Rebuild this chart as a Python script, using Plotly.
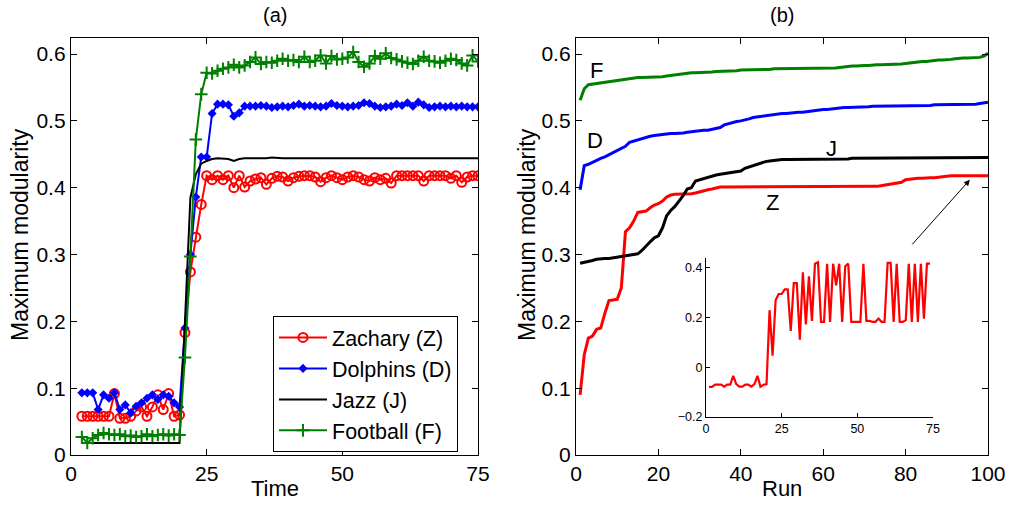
import plotly.graph_objects as go

# ---------------- Data: panel (a) ----------------
time = list(range(2, 76))

zachary_a = [0.058, 0.058, 0.058, 0.058, 0.058, 0.058, 0.092, 0.055, 0.055, 0.058,
             0.066, 0.072, 0.058, 0.072, 0.090, 0.068, 0.092, 0.058, 0.060,
             0.183, 0.274, 0.326, 0.375, 0.418, 0.412, 0.418, 0.412, 0.418, 0.400,
             0.418, 0.401, 0.410, 0.413, 0.415, 0.405, 0.414, 0.417, 0.416, 0.410,
             0.415, 0.417, 0.418, 0.418, 0.416, 0.409, 0.415, 0.418, 0.415, 0.412,
             0.416, 0.418, 0.416, 0.412, 0.410, 0.415, 0.412, 0.414, 0.407, 0.418,
             0.418, 0.418, 0.418, 0.418, 0.410, 0.418, 0.418, 0.418, 0.418, 0.414,
             0.418, 0.408, 0.416, 0.418, 0.418]

dolphins_a = [0.093, 0.093, 0.093, 0.068, 0.090, 0.085, 0.093, 0.068, 0.075, 0.063,
              0.073, 0.078, 0.085, 0.090, 0.083, 0.090, 0.088, 0.078, 0.072,
              0.190, 0.300, 0.386, 0.446, 0.446, 0.511, 0.525, 0.525, 0.524, 0.507,
              0.512, 0.522, 0.522, 0.522, 0.523, 0.522, 0.520, 0.521, 0.522, 0.521,
              0.523, 0.525, 0.522, 0.523, 0.522, 0.521, 0.522, 0.526, 0.523, 0.522,
              0.521, 0.522, 0.523, 0.527, 0.526, 0.522, 0.520, 0.521, 0.522, 0.525,
              0.523, 0.527, 0.522, 0.528, 0.524, 0.520, 0.521, 0.522, 0.521, 0.522,
              0.521, 0.522, 0.521, 0.521, 0.521]

jazz_a = [0.018, 0.018, 0.018, 0.018, 0.018, 0.018, 0.018, 0.018, 0.018, 0.018,
          0.018, 0.018, 0.018, 0.018, 0.018, 0.018, 0.018, 0.018, 0.018,
          0.200, 0.385, 0.420, 0.436, 0.440, 0.443, 0.444, 0.444, 0.443, 0.440,
          0.443, 0.444, 0.444, 0.444, 0.443, 0.444, 0.445, 0.444, 0.444, 0.444,
          0.444, 0.445, 0.445, 0.444, 0.444, 0.444, 0.445, 0.444, 0.444, 0.444,
          0.444, 0.444, 0.445, 0.444, 0.444, 0.444, 0.444, 0.444, 0.445, 0.444,
          0.444, 0.444, 0.444, 0.444, 0.444, 0.445, 0.444, 0.444, 0.444, 0.444,
          0.444, 0.445, 0.445, 0.444, 0.444]

football_a = [0.027, 0.018, 0.025, 0.030, 0.033, 0.031, 0.030, 0.031, 0.028, 0.029,
              0.027, 0.028, 0.031, 0.028, 0.030, 0.031, 0.029, 0.031, 0.030,
              0.146, 0.297, 0.472, 0.540, 0.572, 0.571, 0.575, 0.578, 0.580, 0.584,
              0.580, 0.583, 0.588, 0.595, 0.585, 0.588, 0.587, 0.590, 0.593, 0.590,
              0.591, 0.588, 0.596, 0.588, 0.590, 0.598, 0.586, 0.597, 0.592, 0.593,
              0.595, 0.603, 0.588, 0.581, 0.586, 0.597, 0.593, 0.601, 0.594, 0.592,
              0.589, 0.587, 0.585, 0.590, 0.596, 0.590, 0.589, 0.587, 0.590, 0.593,
              0.591, 0.586, 0.583, 0.598, 0.589]

# ---------------- Data: panel (b) ----------------
run = list(range(1, 101))

zachary_b = [0.090, 0.150, 0.175, 0.178, 0.188, 0.190, 0.212, 0.231, 0.232, 0.233,
             0.250, 0.334, 0.340, 0.350, 0.363, 0.364, 0.365, 0.370, 0.374, 0.376,
             0.380, 0.386, 0.389, 0.390, 0.390, 0.390, 0.390, 0.391, 0.392, 0.394,
             0.396, 0.397, 0.398, 0.400, 0.401, 0.401, 0.401, 0.401, 0.401, 0.401,
             0.401, 0.401, 0.401, 0.401, 0.401, 0.401, 0.401, 0.401, 0.401, 0.401,
             0.401, 0.401, 0.401, 0.401, 0.401, 0.401, 0.401, 0.401, 0.401, 0.401,
             0.401, 0.401, 0.401, 0.401, 0.401, 0.401, 0.401, 0.401, 0.401, 0.401,
             0.401, 0.401, 0.402, 0.403, 0.404, 0.404, 0.405, 0.406, 0.408, 0.412,
             0.413, 0.413, 0.414, 0.414, 0.415, 0.415, 0.415, 0.416, 0.417, 0.417,
             0.418, 0.418, 0.418, 0.418, 0.418, 0.418, 0.418, 0.418, 0.418, 0.418]

dolphins_b = [0.397, 0.433, 0.435, 0.438, 0.442, 0.444, 0.446, 0.449, 0.452, 0.456,
              0.459, 0.462, 0.468, 0.470, 0.472, 0.474, 0.475, 0.477, 0.478, 0.479,
              0.480, 0.480, 0.481, 0.481, 0.481, 0.482, 0.483, 0.484, 0.485, 0.485,
              0.486, 0.486, 0.487, 0.488, 0.490, 0.494, 0.496, 0.498, 0.499, 0.500,
              0.501, 0.503, 0.505, 0.506, 0.507, 0.508, 0.509, 0.510, 0.510, 0.511,
              0.511, 0.512, 0.512, 0.513, 0.513, 0.514, 0.514, 0.515, 0.516, 0.517,
              0.517, 0.518, 0.519, 0.519, 0.520, 0.520, 0.520, 0.521, 0.521, 0.521,
              0.521, 0.522, 0.522, 0.522, 0.522, 0.522, 0.523, 0.523, 0.523, 0.523,
              0.523, 0.523, 0.523, 0.523, 0.523, 0.523, 0.524, 0.524, 0.524, 0.524,
              0.524, 0.524, 0.524, 0.524, 0.524, 0.525, 0.525, 0.526, 0.527, 0.528]

jazz_b = [0.287, 0.288, 0.290, 0.291, 0.293, 0.294, 0.294, 0.294, 0.295, 0.295,
          0.296, 0.297, 0.298, 0.300, 0.301, 0.306, 0.313, 0.319, 0.325, 0.328,
          0.340, 0.358, 0.366, 0.372, 0.380, 0.388, 0.398, 0.400, 0.410, 0.412,
          0.414, 0.416, 0.417, 0.419, 0.420, 0.421, 0.422, 0.422, 0.423, 0.425,
          0.429, 0.431, 0.434, 0.436, 0.438, 0.439, 0.440, 0.441, 0.441, 0.442,
          0.442, 0.442, 0.442, 0.442, 0.443, 0.443, 0.443, 0.443, 0.443, 0.443,
          0.443, 0.443, 0.443, 0.443, 0.443, 0.443, 0.444, 0.444, 0.444, 0.444,
          0.444, 0.444, 0.444, 0.444, 0.444, 0.444, 0.444, 0.444, 0.444, 0.444,
          0.444, 0.444, 0.444, 0.444, 0.445, 0.445, 0.445, 0.445, 0.445, 0.445,
          0.445, 0.445, 0.445, 0.445, 0.445, 0.445, 0.445, 0.445, 0.445, 0.445]

football_b = [0.531, 0.548, 0.554, 0.555, 0.556, 0.557, 0.558, 0.559, 0.560, 0.561,
              0.562, 0.563, 0.564, 0.564, 0.565, 0.565, 0.565, 0.565, 0.566, 0.566,
              0.566, 0.567, 0.568, 0.569, 0.570, 0.571, 0.571, 0.572, 0.572, 0.572,
              0.573, 0.573, 0.573, 0.574, 0.574, 0.574, 0.575, 0.575, 0.575, 0.576,
              0.576, 0.576, 0.576, 0.577, 0.577, 0.577, 0.577, 0.578, 0.578, 0.578,
              0.578, 0.578, 0.578, 0.578, 0.578, 0.579, 0.579, 0.579, 0.579, 0.579,
              0.579, 0.579, 0.579, 0.580, 0.581, 0.581, 0.582, 0.582, 0.583, 0.583,
              0.583, 0.584, 0.584, 0.584, 0.584, 0.585, 0.585, 0.585, 0.585, 0.586,
              0.587, 0.588, 0.588, 0.589, 0.589, 0.590, 0.590, 0.591, 0.591, 0.591,
              0.592, 0.593, 0.594, 0.594, 0.594, 0.594, 0.595, 0.595, 0.597, 0.601]

# ---------------- Data: inset ----------------
inset_t = list(range(1, 75))
inset_z = [-0.079, -0.079, -0.070, -0.070, -0.070, -0.078, -0.070, -0.070, -0.034, -0.068,
           -0.078, -0.078, -0.070, -0.070, -0.078, -0.068, -0.034, -0.078, -0.070, -0.068,
           0.230, 0.047, 0.270, 0.295, 0.295, 0.314, 0.314, 0.146, 0.339, 0.339,
           0.111, 0.382, 0.173, 0.366, 0.187, 0.417, 0.423, 0.183, 0.183, 0.417,
           0.183, 0.417, 0.330, 0.417, 0.183, 0.407, 0.417, 0.183, 0.183, 0.183,
           0.183, 0.417, 0.187, 0.187, 0.183, 0.183, 0.196, 0.183, 0.183, 0.420,
           0.420, 0.183, 0.417, 0.183, 0.183, 0.190, 0.417, 0.183, 0.417, 0.183,
           0.417, 0.196, 0.417, 0.417]

legend_names = ["Zachary (Z)", "Dolphins (D)", "Jazz (J)", "Football (F)"]
curve_labels = ["Z", "D", "J", "F"]

RED, BLUE, BLACK, GREEN = "#FF0000", "#0000FF", "#000000", "#008000"
FONT = "Liberation Sans, Arial, Helvetica, sans-serif"

fig = go.Figure()

# Panel (a)
fig.add_trace(go.Scatter(x=time, y=zachary_a, name=legend_names[0], mode="lines+markers",
                         line=dict(color=RED, width=2),
                         marker=dict(symbol="circle-open", size=9, color=RED, line=dict(width=2, color=RED)),
                         xaxis="x", yaxis="y"))
fig.add_trace(go.Scatter(x=time, y=dolphins_a, name=legend_names[1], mode="lines+markers",
                         line=dict(color=BLUE, width=2),
                         marker=dict(symbol="diamond", size=7, color=BLUE),
                         xaxis="x", yaxis="y"))
fig.add_trace(go.Scatter(x=time, y=jazz_a, name=legend_names[2], mode="lines",
                         line=dict(color=BLACK, width=2),
                         xaxis="x", yaxis="y"))
fig.add_trace(go.Scatter(x=time, y=football_a, name=legend_names[3], mode="lines+markers",
                         line=dict(color=GREEN, width=2),
                         marker=dict(symbol="cross-thin-open", size=9, color=GREEN, line=dict(width=2, color=GREEN)),
                         xaxis="x", yaxis="y"))

# Panel (b)
for vals, col in [(zachary_b, RED), (dolphins_b, BLUE), (jazz_b, BLACK), (football_b, GREEN)]:
    fig.add_trace(go.Scatter(x=run, y=vals, mode="lines", line=dict(color=col, width=3),
                             xaxis="x2", yaxis="y2", showlegend=False))

# Inset
fig.add_trace(go.Scatter(x=inset_t, y=inset_z, mode="lines", line=dict(color=RED, width=2.2),
                         xaxis="x3", yaxis="y3", showlegend=False))

main_axis = dict(showline=True, linecolor="black", linewidth=1.3, mirror="ticks",
                 ticks="inside", ticklen=6, tickwidth=1, tickcolor="black",
                 showgrid=False, zeroline=False, automargin=False,
                 tickfont=dict(family=FONT, size=21, color="black"))
inset_axis = dict(showline=True, linecolor="black", linewidth=1, mirror=False,
                  ticks="inside", ticklen=4, tickwidth=1, tickcolor="black",
                  showgrid=False, zeroline=False, automargin=False,
                  tickfont=dict(family=FONT, size=12.5, color="black"))

W, H = 1012, 506
fig.update_layout(
    width=W, height=H, autosize=False,
    margin=dict(l=0, r=0, t=0, b=0, autoexpand=False),
    paper_bgcolor="white", plot_bgcolor="white",
    font=dict(family=FONT, color="black"),
    xaxis=dict(main_axis, domain=[71 / W, 478 / W], range=[0, 75], tickvals=[0, 25, 50, 75]),
    yaxis=dict(main_axis, domain=[1 - 455 / H, 1 - 38 / H], range=[0, 0.624],
               tickvals=[0, 0.1, 0.2, 0.3, 0.4, 0.5, 0.6],
               ticktext=["0", "0.1", "0.2", "0.3", "0.4", "0.5", "0.6"]),
    xaxis2=dict(main_axis, domain=[576 / W, 988 / W], range=[0, 100], anchor="y2",
                tickvals=[0, 20, 40, 60, 80, 100]),
    yaxis2=dict(main_axis, domain=[1 - 455 / H, 1 - 38 / H], range=[0, 0.624], anchor="x2",
                tickvals=[0, 0.1, 0.2, 0.3, 0.4, 0.5, 0.6],
                ticktext=["0", "0.1", "0.2", "0.3", "0.4", "0.5", "0.6"]),
    xaxis3=dict(inset_axis, domain=[706 / W, 933 / W], range=[0, 75], anchor="y3",
                tickvals=[0, 25, 50, 75]),
    yaxis3=dict(inset_axis, domain=[1 - 417 / H, 1 - 258 / H], range=[-0.2, 0.44], anchor="x3",
                tickvals=[-0.2, 0, 0.2, 0.4], ticktext=["\u22120.2", "0", "0.2", "0.4"]),
    legend=dict(x=273 / W, y=1 - 384 / H, xanchor="left", yanchor="middle",
                bgcolor="white", bordercolor="black", borderwidth=1,
                font=dict(family=FONT, size=21.5, color="black"),
                itemwidth=48, tracegroupgap=0),
    showlegend=True,
)

ann = []
def txt(text, px, py, size, angle=0):
    return dict(text=text, x=px / W, y=1 - py / H, xref="paper", yref="paper",
                xanchor="center", yanchor="middle", showarrow=False, textangle=angle,
                font=dict(size=size, family=FONT, color="black"))

# panel titles
ann.append(txt("(a)", 275, 15, 20))
ann.append(txt("(b)", 782, 15, 20))
# axis titles
ann.append(txt("Time", 275, 488, 22))
ann.append(txt("Run", 782, 488, 22))
ann.append(txt("Maximum modularity", 20, 235, 23, -90))
ann.append(txt("Maximum modularity", 527, 235, 23, -90))
# curve labels in panel (b)
for lab, (lx, ly) in zip(curve_labels, [(47.7, 0.378), (4.5, 0.471), (62.1, 0.459), (4.9, 0.576)]):
    ann.append(dict(text=lab, x=lx, y=ly, xref="x2", yref="y2", showarrow=False,
                    xanchor="center", yanchor="middle",
                    font=dict(size=22, family=FONT, color="black")))
# arrow pointing to the end of Z curve
ann.append(dict(text="", x=95.6, y=0.412, ax=81.3, ay=0.313, xref="x2", yref="y2",
                axref="x2", ayref="y2", showarrow=True, arrowhead=2, arrowsize=1.2,
                arrowwidth=1, arrowcolor="black"))
fig.update_layout(annotations=ann)

fig.write_html("out.html", config={"displayModeBar": False},
               post_script="document.body.style.margin='0px';document.body.style.overflow='hidden';")
